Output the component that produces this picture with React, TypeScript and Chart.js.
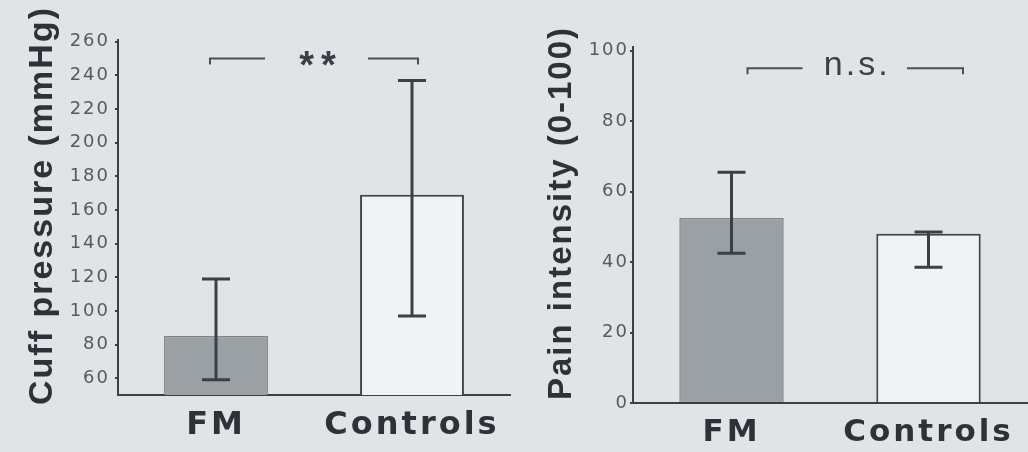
import React, { useEffect, useRef } from "react";
import { Chart, registerables } from "chart.js";
Chart.register(...registerables);

// ---------- data ----------
const categories = ["FM", "Controls"];

const cuffMean = [85, 169];
const cuffLow = [59, 97];
const cuffHigh = [119, 237];
const cuffTicks = [60, 80, 100, 120, 140, 160, 180, 200, 220, 240, 260];
const cuffTitle = "Cuff pressure (mmHg)";
const cuffSig = "**";
const cuffSigLevel = 250;

const painMean = [52.5, 48];
const painLow = [42.5, 38.5];
const painHigh = [65.5, 48.5];
const painTicks = [0, 20, 40, 60, 80, 100];
const painTitle = "Pain intensity (0-100)";
const painSig = "n.s.";
const painSigLevel = 95;

// ---------- style ----------
const BG = "#e1e4e7";
const INK = "#394047";
const TICK_INK = "#555a60";
const FM_FILL = "#9aa0a3";
const FM_BORDER = "#7c8286";
const CTRL_FILL = "#f1f2f4";
const CTRL_BORDER = "#3d4349";
const FONT = "'Liberation Sans', Arial, Helvetica, sans-serif";
const WIDE = "'DejaVu Sans', 'Liberation Sans', sans-serif";

type PanelSpec = {
  left: number;
  width: number;
  mean: number[];
  low: number[];
  high: number[];
  ticks: number[];
  min: number;
  max: number;
  title: string;
  titleSize: number;
  titleSpacing: string;
  titleShift: number;
  yWidth: number;
  xHeight: number;
  padTop: number;
  padRight: number;
  yPad: number;
  xPad: number;
  xFont: number;
  sig: string;
  sigLevel: number;
  sigFont: string;
  sigSpacing: string;
  bx0: number;
  bx1: number;
  segL: number;
  segR: number;
  textDx: number;
  textDy: number;
};

const leftPanel: PanelSpec = {
  left: 0,
  width: 520,
  mean: cuffMean,
  low: cuffLow,
  high: cuffHigh,
  ticks: cuffTicks,
  min: 50,
  max: 261,
  title: cuffTitle,
  titleSize: 34,
  titleSpacing: "2px",
  titleShift: -12,
  yWidth: 118,
  xHeight: 57,
  padTop: 40,
  padRight: 10,
  yPad: 5,
  xPad: 11,
  xFont: 32,
  sig: cuffSig,
  sigLevel: cuffSigLevel,
  sigFont: `bold 38px ${FONT}`,
  sigSpacing: "7px",
  bx0: -6,
  bx1: 6,
  segL: 55,
  segR: 50,
  textDx: 7,
  textDy: 19,
};

const rightPanel: PanelSpec = {
  left: 520,
  width: 508,
  mean: painMean,
  low: painLow,
  high: painHigh,
  ticks: painTicks,
  min: 0,
  max: 101,
  title: painTitle,
  titleSize: 33,
  titleSpacing: "2px",
  titleShift: -12,
  yWidth: 113,
  xHeight: 49,
  padTop: 47,
  padRight: 1,
  yPad: 1,
  xPad: 11,
  xFont: 31,
  sig: painSig,
  sigLevel: painSigLevel,
  sigFont: `34px ${FONT}`,
  sigSpacing: "3px",
  bx0: 16,
  bx1: 34.5,
  segL: 55,
  segR: 56,
  textDx: 2,
  textDy: 7,
};

function makeSpacingPlugin(cfg: Record<string, { labels: string; title?: string; titleShift?: number }>) {
  return {
    id: "letterSpacing",
    beforeDraw(chart: any) {
      const ctx = chart.ctx;
      for (const id of Object.keys(chart.scales)) {
        const scale = chart.scales[id];
        if (scale.__patched) continue;
        const c = cfg[id] || { labels: "0px" };
        const origLabels = scale.drawLabels.bind(scale);
        const origTitle = scale.drawTitle.bind(scale);
        scale.drawLabels = (area: any) => {
          ctx.save();
          ctx.letterSpacing = c.labels;
          origLabels(area);
          ctx.restore();
        };
        scale.drawTitle = () => {
          ctx.save();
          ctx.letterSpacing = c.title || "0px";
          ctx.translate(0, c.titleShift || 0);
          origTitle();
          ctx.restore();
        };
        scale.__patched = true;
      }
    },
  };
}

function BarPanel({ p }: { p: PanelSpec }) {
  const ref = useRef<HTMLCanvasElement>(null);
  useEffect(() => {
    const canvas = ref.current!;

    const errorBars = {
      id: "errorBars",
      afterDatasetsDraw(chart: any) {
        const meta = chart.getDatasetMeta(0);
        const ys = chart.scales.y;
        const ctx = chart.ctx;
        const cap = 28;
        ctx.save();
        ctx.strokeStyle = INK;
        ctx.lineWidth = 3;
        meta.data.forEach((bar: any, i: number) => {
          const x = bar.x;
          const yl = ys.getPixelForValue(p.low[i]);
          const yh = ys.getPixelForValue(p.high[i]);
          ctx.beginPath();
          ctx.moveTo(x, yl);
          ctx.lineTo(x, yh);
          ctx.moveTo(x - cap / 2, yl);
          ctx.lineTo(x + cap / 2, yl);
          ctx.moveTo(x - cap / 2, yh);
          ctx.lineTo(x + cap / 2, yh);
          ctx.stroke();
        });
        ctx.restore();
      },
    };

    const bracket = {
      id: "bracket",
      afterDraw(chart: any) {
        const xs = chart.scales.x;
        const ys = chart.scales.y;
        const ctx = chart.ctx;
        const x0 = xs.getPixelForValue(0) + p.bx0;
        const x1 = xs.getPixelForValue(1) + p.bx1;
        const yb = ys.getPixelForValue(p.sigLevel);
        ctx.save();
        ctx.strokeStyle = "#4a5057";
        ctx.lineWidth = 2;
        ctx.beginPath();
        ctx.moveTo(x0, yb + 6);
        ctx.lineTo(x0, yb);
        ctx.lineTo(x0 + p.segL, yb);
        ctx.moveTo(x1 - p.segR, yb);
        ctx.lineTo(x1, yb);
        ctx.lineTo(x1, yb + 6);
        ctx.stroke();
        ctx.fillStyle = INK;
        ctx.font = p.sigFont;
        ctx.letterSpacing = p.sigSpacing;
        ctx.textAlign = "center";
        ctx.textBaseline = "alphabetic";
        ctx.fillText(p.sig, (x0 + x1) / 2 + p.textDx, yb + p.textDy);
        ctx.restore();
      },
    };

    const spacing = makeSpacingPlugin({
      x: { labels: "3px" },
      y: { labels: "2px", title: p.titleSpacing, titleShift: p.titleShift },
    });

    const chart = new Chart(canvas, {
      type: "bar",
      data: {
        labels: categories,
        datasets: [
          {
            data: p.mean,
            backgroundColor: [FM_FILL, CTRL_FILL],
            borderColor: [FM_BORDER, CTRL_BORDER],
            borderWidth: [1.5, 2],
            barPercentage: 0.53,
            categoryPercentage: 1,
          },
        ],
      },
      options: {
        responsive: false,
        animation: false,
        devicePixelRatio: 1,
        layout: { padding: { top: p.padTop, right: p.padRight, left: 0, bottom: 0 } },
        plugins: {
          legend: { display: false },
          tooltip: { enabled: false },
        },
        scales: {
          x: {
            offset: true,
            grid: { display: false, drawTicks: false },
            border: { display: true, color: INK, width: 2 },
            ticks: {
              color: "#2e3238",
              font: { family: WIDE, size: p.xFont, weight: "bold" },
              padding: p.xPad,
              maxRotation: 0,
            },
            afterFit: (s: any) => {
              s.height = p.xHeight;
            },
          },
          y: {
            min: p.min,
            max: p.max,
            afterBuildTicks: (s: any) => {
              s.ticks = p.ticks.map((v) => ({ value: v }));
            },
            grid: { drawOnChartArea: false, drawTicks: true, tickLength: 3, color: INK, lineWidth: 2 },
            border: { display: true, color: INK, width: 2 },
            ticks: {
              color: TICK_INK,
              font: { family: WIDE, size: 18 },
              padding: p.yPad,
              autoSkip: false,
            },
            title: {
              display: true,
              text: p.title,
              color: "#2e3238",
              font: { family: FONT, size: p.titleSize, weight: "bold" },
              padding: { top: 22, bottom: 0 },
            },
            afterFit: (s: any) => {
              s.width = p.yWidth;
            },
          },
        },
      } as any,
      plugins: [spacing, errorBars, bracket],
    });
    return () => chart.destroy();
  }, [p]);

  return (
    <canvas
      ref={ref}
      width={p.width}
      height={452}
      style={{ position: "absolute", left: p.left, top: 0, width: p.width, height: 452 }}
    />
  );
}

export default function App() {
  return (
    <div
      style={{
        position: "fixed",
        left: 0,
        top: 0,
        width: 1028,
        height: 452,
        background: BG,
        overflow: "hidden",
      }}
    >
      <BarPanel p={leftPanel} />
      <BarPanel p={rightPanel} />
    </div>
  );
}
